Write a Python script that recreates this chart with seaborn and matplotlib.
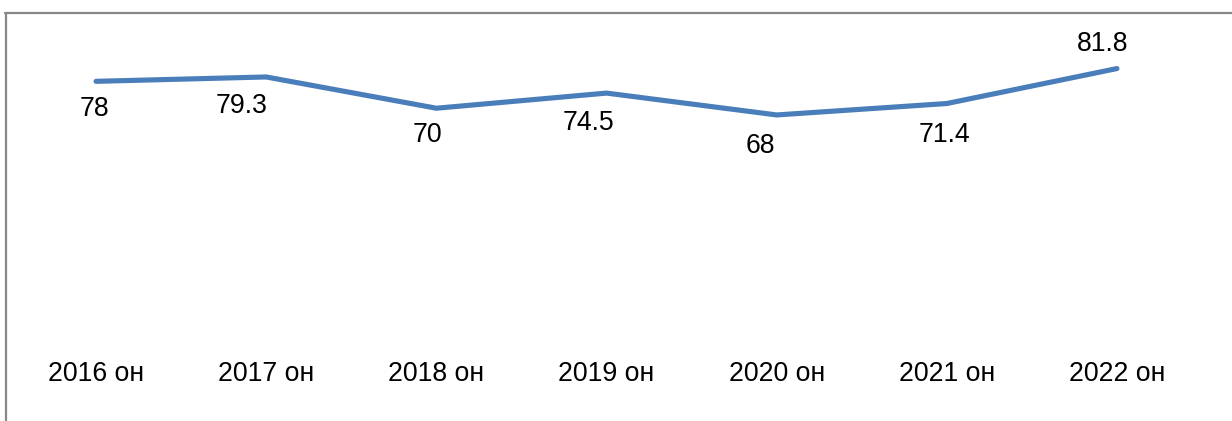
import matplotlib
matplotlib.use("Agg")
import matplotlib.pyplot as plt
from matplotlib.lines import Line2D
import seaborn as sns
import pandas as pd

years = ["2016 он", "2017 он", "2018 он", "2019 он", "2020 он", "2021 он", "2022 он"]
values = [78, 79.3, 70, 74.5, 68, 71.4, 81.8]

# label offsets in points (dx, dy) relative to each point
label_offsets = [(-1.5, -20), (-18, -21), (-6.5, -19.5), (-13, -21.5), (-12, -22.5), (-1.5, -22.5), (-10, 17.5)]

sns.set_theme(style="white")
plt.rcParams["font.family"] = ["Liberation Sans", "DejaVu Sans"]

df = pd.DataFrame({"year": years, "value": values})

fig = plt.figure(figsize=(12.32, 4.21), dpi=100)
ax = fig.add_axes([11 / 1232, 1 - 343.5 / 421, 1191 / 1232, (343.5 - 41) / 421])

line_color = "#4A7EBB"
sns.lineplot(data=df, x="year", y="value", ax=ax, color=line_color,
             linewidth=3.7, sort=False, solid_capstyle="round", solid_joinstyle="miter")

font_size = 19.2
for i, (v, (dx, dy)) in enumerate(zip(values, label_offsets)):
    ax.annotate(f"{v:g}", xy=(i, v), xytext=(dx, dy), textcoords="offset points",
                ha="center", va="center", fontsize=font_size, color="black", annotation_clip=False)

ax.set_xlim(-0.5, len(years) - 0.5)
ax.set_ylim(0, 90)
ax.set_xlabel("")
ax.set_ylabel("")
ax.set_yticks([])
ax.tick_params(axis="x", length=0, pad=12.5, labelsize=font_size, labelcolor="black")
for s in ax.spines.values():
    s.set_visible(False)
ax.set_facecolor("none")

# chart frame (partial, top and left edges)
frame_color = "#878787"
fig.add_artist(Line2D([5 / 1232, 1.0], [1 - 12.5 / 421, 1 - 12.5 / 421], transform=fig.transFigure,
                      color=frame_color, linewidth=1.6))
fig.add_artist(Line2D([5.5 / 1232, 5.5 / 1232], [0.0, 1 - 12.5 / 421], transform=fig.transFigure,
                      color=frame_color, linewidth=1.6))

fig.savefig("out.png", dpi=100, facecolor="white")
